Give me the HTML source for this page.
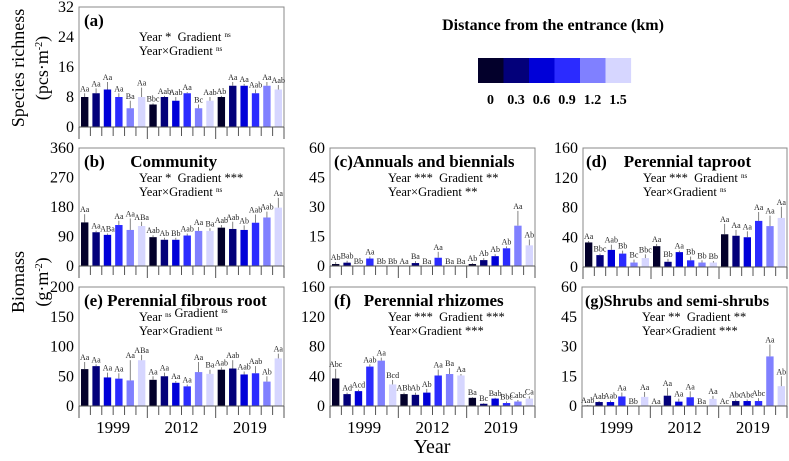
<!DOCTYPE html>
<html><head><meta charset="utf-8">
<style>
body{margin:0;background:#fff;}
svg text{font-family:"Liberation Serif","DejaVu Serif",serif;white-space:pre;}
</style></head>
<body>
<svg id="chart" width="789" height="456" viewBox="0 0 789 456" xmlns="http://www.w3.org/2000/svg">
<text x="553" y="30" font-size="16" font-weight="bold" text-anchor="middle">Distance from the entrance (km)</text>
<g id="legend"></g>
<text transform="translate(24,68) rotate(-90)" font-size="18" text-anchor="middle">Species richness</text>
<text transform="translate(48,68) rotate(-90)" font-size="18" text-anchor="middle">(pcs·m<tspan dy="-6" font-size="10">-2</tspan><tspan dy="6">)</tspan></text>
<text transform="translate(24,282) rotate(-90)" font-size="18" text-anchor="middle">Biomass</text>
<text transform="translate(48,282) rotate(-90)" font-size="18" text-anchor="middle">(g·m<tspan dy="-6" font-size="10">-2</tspan><tspan dy="6">)</tspan></text>
<text x="432" y="453" font-size="20" text-anchor="middle">Year</text>
</svg>
<script>
const years = ["1999","2012","2019"];
const distances = ["0","0.3","0.6","0.9","1.2","1.5"];
const colors = ["#03002b","#03007a","#0000d8","#2b2bff","#8080ff","#d6d6ff"];

const aVals = [8,9,10,8,5,8, 6,8,7,9,5,7, 8,11,11,9,11,10];
const aErr  = [1,1.3,2,1,2,2.5, 0.3,0.3,1,0.3,1,1, 0.3,1,0.5,1,1,1.2];
const aLab  = ["Aa","Aa","Aa","Aa","Ba","Aa","Bbc","Aab","Aab","Aa","Bc","Aab","Ab","Aa","Aa","Aab","Aa","Aab"];
const aTicks = [0,8,16,24,32];

const bVals = [133,103,95,125,110,122, 88,80,80,93,107,107, 117,113,110,132,148,178];
const bErr  = [25,5,4,13,35,13, 6,6,6,6,12,8, 8,22,14,25,18,30];
const bLab  = ["Aa","Aa","ABa","Aa","Aa","ABa","Aab","Ab","Bb","Aab","Aa","Ba","Aab","Aab","Ab","Aab","Aab","Aa"];
const bTicks = [0,90,180,270,360];

const cVals = [1,1.7,0,3.8,0,0, 0,1.5,0,4.2,0,0, 1,3,5,9,20.5,10.5];
const cErr  = [1,1,0,1,0,0, 0,1,0,3,0,0, 0.5,1,1,1,7.5,3];
const cLab  = ["Ab","Bab","Bb","Aa","Bb","Bb","Aa","Ba","Ba","Aa","Ba","Ba","Ab","Ab","Ab","Ab","Aa","Ab"];
const cTicks = [0,15,30,45,60];

const dVals = [33,16,23,18,6,12, 28,7,20,9,6,6, 44,42,40,62,55,66];
const dErr  = [2,2,7,4,4,5, 3,4,2,5,3,2, 14,8,8,12,14,15];
const dLab  = ["Aa","Bbc","Aab","Bb","Bc","Bbc","Aa","Bb","Aa","Bb","Bb","Bb","Aa","Aa","Aa","Aa","Aa","Aa"];
const dTicks = [0,40,80,120,160];

const eVals = [62,67,48,46,43,77, 44,50,39,33,57,54, 61,63,53,55,41,80];
const eErr  = [12,3,8,9,34,9, 6,6,3,3,17,7, 4,14,5,12,9,8];
const eLab  = ["Aa","Aa","Aa","Aa","Aa","ABa","Aa","Aa","Aa","Aa","Aa","Ba","Aab","Aab","Aab","Aab","Ab","Aa"];
const eTicks = [0,50,100,150,200];

const fVals = [37,16,20,53,61,29, 16,15,18,41,43,41, 11,3,10,4,6,10];
const fErr  = [13,2,2,3,4,6, 2,3,5,8,8,2, 1,1,1,2,2,3];
const fLab  = ["Abc","Ad","Acd","Aab","Aa","Bcd","ABb","Ab","Ab","Aa","Ba","Aa","Ba","Bc","Bab","Bbc","Cabc","Ca"];
const fTicks = [0,40,80,120,160];

const gVals = [0.3,2,2,4.8,0,4.6, 0,5.2,2.2,4.4,0,3.6, 0,2.5,2.5,2.5,25,10];
const gErr  = [0.2,0.5,0.8,2,0,2.5, 0,4,1.5,3,0,1.5, 0,0.8,0.8,1.5,6,5];
const gLab  = ["Aab","Aab","Aab","Aa","Bb","Aa","Aa","Aa","Aa","Aa","Ba","Aa","Ac","Abc","Abc","Abc","Aa","Ab"];
const gTicks = [0,15,30,45,60];

const NS = "http://www.w3.org/2000/svg";
const svg = document.getElementById("chart");
function mk(tag, attrs, parent){
  const el = document.createElementNS(NS, tag);
  for (const k in attrs) el.setAttribute(k, attrs[k]);
  (parent||svg).appendChild(el);
  return el;
}

const lg = document.getElementById("legend");
distances.forEach((d,i)=>{
  const r = mk("rect",{x:478+i*25.5,y:58,width:25.6,height:25,fill:colors[i]},lg);
  
  
  const t = mk("text",{x:490.5+i*25.5,y:104,"font-size":14,"font-weight":"bold","text-anchor":"middle"},lg);
  t.textContent = d;
  
  
});

function panel(cfg){
  const {id,x0,x1,yTop,yBot,ticks,vals,err,lab,title,titleX,titleSize,stat1,stat2,statX,showYears} = cfg;
  const g = mk("g",{});
  
  
  const maxV = ticks[ticks.length-1];
  const yS = v => yBot - (v/maxV)*(yBot-yTop);
  const slot = (x1-x0)/18;
  const xS = i => x0 + i*slot;
  const fr = mk("rect",{x:x0,y:yTop,width:x1-x0,height:yBot-yTop,fill:"none",stroke:"#888","stroke-width":1},g);
  
  
  ticks.forEach(t=>{
    const y = yS(t);
    const tl = mk("text",{x:x0-5,y:y+5,"font-size":16,"text-anchor":"end"},g);
    tl.textContent = t;
    
    
  });
  for(let i=0;i<=18;i++){
    const tk = mk("line",{x1:xS(i),x2:xS(i),y1:yBot,y2:yBot+(i%6===0?12:9),stroke:"#555","stroke-width":1},g);
    
    
  }
  vals.forEach((v,i)=>{
    const bx = xS(i)+2, bw = slot-4;
    const yv = yS(v);
    const b = mk("rect",{x:bx,y:yv,width:bw,height:yBot-yv,fill:colors[i%6]},g);
    
    
    const cx = bx+bw/2;
    let topY = yv;
    if(err[i]>0){
      const ye = yS(v+err[i]);
      const e = mk("line",{x1:cx,x2:cx,y1:yv,y2:ye,stroke:"#666","stroke-width":0.8},g);
      
      
      topY = ye;
    }
    const lt = mk("text",{x:cx,y:topY-2,"font-size":8,"text-anchor":"middle",fill:"#222"},g);
    lt.textContent = lab[i];
    
    
  });
  const ax = mk("line",{x1:x0,x2:x1,y1:yBot,y2:yBot,stroke:"#555","stroke-width":1},g);
  
  
  if(showYears){
    years.forEach((yr,k)=>{
      const t = mk("text",{x:x0+(k*6+3)*slot,y:yBot+27,"font-size":17,"text-anchor":"middle"},g);
      t.textContent = yr;
      
      
    });
  }
  const tt = mk("text",{x:titleX,y:yTop+19,"font-size":titleSize||17,"font-weight":"bold"},g);
  tt.textContent = title;
  
  
  const s1 = mk("text",{x:statX,y:yTop+34,"font-size":12.5},g);
  s1.innerHTML = stat1;
  
  
  const s2 = mk("text",{x:statX,y:yTop+48,"font-size":12.5},g);
  s2.innerHTML = stat2;
  
  
}
const NSUP = '<tspan dy="-4" font-size="7">ns</tspan><tspan dy="4"></tspan>';
panel({id:"a",x0:79,x1:284,yTop:7,yBot:127,ticks:aTicks,vals:aVals,err:aErr,lab:aLab,title:"(a)",titleX:84,
  stat1:'Year *  Gradient '+NSUP,stat2:'Year×Gradient '+NSUP,statX:139,showYears:false});
panel({id:"b",x0:79,x1:284,yTop:148,yBot:266,ticks:bTicks,vals:bVals,err:bErr,lab:bLab,title:"(b)      Community",titleX:84,
  stat1:'Year *  Gradient ***',stat2:'Year×Gradient '+NSUP,statX:139,showYears:false});
panel({id:"c",x0:330,x1:535,yTop:148,yBot:266,ticks:cTicks,vals:cVals,err:cErr,lab:cLab,title:"(c)Annuals and biennials",titleX:334,
  stat1:'Year ***  Gradient **',stat2:'Year×Gradient **',statX:388,showYears:false});
panel({id:"d",x0:583,x1:787,yTop:148,yBot:267,ticks:dTicks,vals:dVals,err:dErr,lab:dLab,title:"(d)    Perennial taproot",titleX:586,
  stat1:'Year ***  Gradient '+NSUP,stat2:'Year×Gradient '+NSUP,statX:643,showYears:false});
panel({id:"e",x0:79,x1:284,yTop:287,yBot:406,ticks:eTicks,vals:eVals,err:eErr,lab:eLab,title:"(e) Perennial fibrous root",titleX:84,
  stat1:'Year '+NSUP+' Gradient '+NSUP,stat2:'Year×Gradient '+NSUP,statX:139,showYears:true});
panel({id:"f",x0:330,x1:535,yTop:287,yBot:406,ticks:fTicks,vals:fVals,err:fErr,lab:fLab,title:"(f)   Perennial rhizomes",titleX:334,
  stat1:'Year ***  Gradient ***',stat2:'Year×Gradient ***',statX:388,showYears:true});
panel({id:"g",x0:582,x1:787,yTop:287,yBot:406,ticks:gTicks,vals:gVals,err:gErr,lab:gLab,title:"(g)Shrubs and semi-shrubs",titleX:585,titleSize:16,
  stat1:'Year **  Gradient **',stat2:'Year×Gradient ***',statX:642,showYears:true});
</script>
</body></html>
